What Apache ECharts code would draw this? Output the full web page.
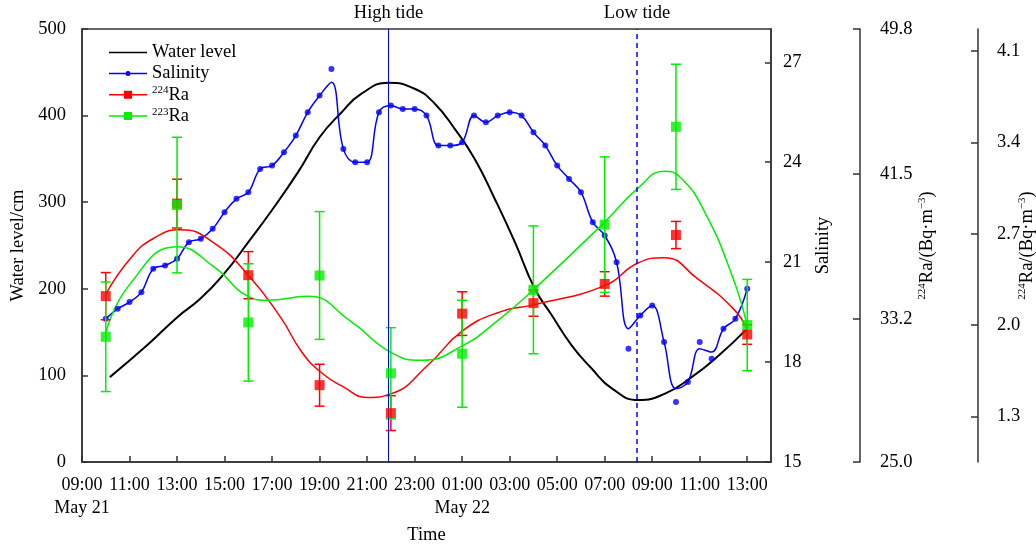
<!DOCTYPE html>
<html>
<head>
<meta charset="utf-8">
<title>Water level, salinity and radium</title>
<style>
  body { margin: 0; background: #fff; }
  #chart { width: 1036px; height: 554px; }
</style>
</head>
<body>
<div id="chart"></div>
<script src="https://cdn.jsdelivr.net/npm/echarts@6.0.0/dist/echarts.min.js"></script>
<script>
// x values are hours after 09:00 on May 21
const xTickValues = [0, 2, 4, 6, 8, 10, 12, 14, 16, 18, 20, 22, 24, 26, 28];
const xTickLabels = ['09:00', '11:00', '13:00', '15:00', '17:00', '19:00', '21:00', '23:00',
                     '01:00', '03:00', '05:00', '07:00', '09:00', '11:00', '13:00'];
const dateTickValues = [0, 16];
const dateTickLabels = ['May 21', 'May 22'];

const salinityTicks = [15, 18, 21, 24, 27];
const ra224Ticks = [25.0, 33.2, 41.5, 49.8];
const ra223Ticks = [1.3, 2.0, 2.7, 3.4, 4.1];

const highTide = 12.9;
const lowTide = 23.36;

// water level curve (cm)
const levelTimes = [1.17, 2.75, 4, 5, 6, 7, 8, 9.1, 10, 10.9, 11.75, 12.9, 14, 14.84, 15.68, 16.53,
                    17.37, 18.22, 19.06, 19.76, 20.6, 21.45, 22.3, 23.42, 24.54, 25.66, 26.8, 28];
const levelValues = [98, 135, 167, 189, 218, 254, 291, 335, 375, 403, 425, 438, 431, 414, 385, 350,
                     304, 254, 200, 170, 135, 108, 85, 71.5, 79, 98, 123, 154];

// salinity, every half hour from 10:00
const salinityTimes = [1, 1.5, 2, 2.5, 3, 3.5, 4, 4.5, 5, 5.5, 6, 6.5, 7, 7.5, 8, 8.5, 9, 9.5, 10, 10.5,
                       11, 11.5, 12, 12.5, 13, 13.5, 14, 14.5, 15, 15.5, 16, 16.5, 17, 17.5, 18, 18.5, 19, 19.5, 20, 20.5,
                       21, 21.5, 22, 22.5, 23, 23.5, 24, 24.5, 25, 25.5, 26, 26.5, 27, 27.5, 28];
const salinity = [19.3, 19.6, 19.8, 20.1, 20.8, 20.9, 21.1, 21.6, 21.7, 22.0,
                  22.5, 22.9, 23.1, 23.8, 23.9, 24.3, 24.8, 25.5, 26.0, 26.8,
                  24.4, 24.0, 24.0, 25.5, 25.7, 25.6, 25.6, 25.4, 24.5, 24.5,
                  24.6, 25.4, 25.2, 25.4, 25.5, 25.4, 24.9, 24.5, 23.9, 23.5,
                  23.1, 22.2, 21.8, 21.0, 18.4, 19.4, 19.7, 18.6, 16.8, 17.4,
                  18.6, 18.1, 19.0, 19.3, 20.2];
// smoothed salinity curve (misses a few points)
const salinityCurve = [19.3, 19.6, 19.8, 20.1, 20.8, 20.9, 21.1, 21.6, 21.7, 22.0,
                       22.5, 22.9, 23.1, 23.8, 23.9, 24.3, 24.8, 25.5, 26.0, 26.4,
                       24.4, 24.0, 24.0, 25.5, 25.7, 25.6, 25.6, 25.4, 24.5, 24.5,
                       24.6, 25.4, 25.2, 25.4, 25.5, 25.4, 24.9, 24.5, 23.9, 23.5,
                       23.1, 22.2, 21.8, 21.0, 19.0, 19.4, 19.7, 18.6, 17.2, 17.4,
                       18.4, 18.3, 19.0, 19.3, 20.2];

// radium samples every 3 hours from 10:00
const raTimes = [1, 4, 7, 10, 13, 16, 19, 22, 25, 28];
const ra224 = [34.5, 39.8, 35.7, 29.4, 27.8, 33.5, 34.1, 35.2, 38.0, 32.3];
const ra224Err = [1.35, 1.4, 1.35, 1.2, 1.0, 1.25, 0.75, 0.7, 0.78, 0.56];
const ra223 = [1.91, 2.92, 2.02, 2.38, 1.63, 1.78, 2.27, 2.77, 3.52, 2.00];
const ra223Err = [0.42, 0.52, 0.45, 0.49, 0.35, 0.41, 0.49, 0.52, 0.48, 0.35];

// fitted curves
const ra224FitTimes = [1, 2, 3, 4.15, 5.5, 7, 8.4, 9.2, 10, 11, 12, 13, 14.6, 16, 17.6, 19, 22, 23.4, 24.5, 25.9, 27.4, 28];
const ra224Fit = [34.6, 36.6, 37.8, 38.3, 37.6, 35.7, 33.2, 31.4, 30.2, 29.3, 28.7, 28.9, 30.6, 32.5, 33.6, 34.0, 35.1, 36.4, 36.7, 35.5, 33.8, 32.6];
const ra223FitTimes = [1, 2, 4, 5.6, 7, 7.8, 9.5, 11.3, 13, 14.3, 16, 17.6, 19, 22, 23.4, 24.5, 25.2, 26.2, 27.4, 28];
const ra223Fit = [1.94, 2.31, 2.60, 2.44, 2.22, 2.19, 2.22, 2.03, 1.79, 1.73, 1.84, 2.05, 2.27, 2.79, 3.05, 3.18, 3.13, 2.87, 2.36, 1.99];

const FONT = 'Liberation Serif';
const FS = 18.5;
const INK = '#000';
const AXIS = '#333';
const BLUE = '#0000ff';
const RED = '#ff0000';
const GREEN = '#00ee00';

function pairs(xs, ys) {
    return xs.map((x, i) => [x, ys[i]]);
}

function labelFrom(values, labels) {
    return function (v) {
        const i = values.indexOf(v);
        return i >= 0 ? labels[i] : '';
    };
}

function errorBars(name, color, yAxisIndex, ys, errs) {
    return {
        name: name,
        type: 'custom',
        yAxisIndex: yAxisIndex,
        z: 4,
        silent: true,
        data: raTimes.map((x, i) => [x, ys[i] - errs[i], ys[i] + errs[i]]),
        encode: { x: 0, y: [1, 2] },
        renderItem: function (params, api) {
            const x = api.value(0);
            const lo = api.coord([x, api.value(1)]);
            const hi = api.coord([x, api.value(2)]);
            const w = 5;
            const st = () => ({ stroke: color, lineWidth: 1.5 });
            return {
                type: 'group',
                children: [
                    { type: 'line', shape: { x1: lo[0], y1: lo[1], x2: hi[0], y2: hi[1] }, style: st() },
                    { type: 'line', shape: { x1: lo[0] - w, y1: lo[1], x2: lo[0] + w, y2: lo[1] }, style: st() },
                    { type: 'line', shape: { x1: hi[0] - w, y1: hi[1], x2: hi[0] + w, y2: hi[1] }, style: st() }
                ]
            };
        }
    };
}

const supRich = {
    sup: { fontFamily: FONT, fontSize: 11, color: INK, verticalAlign: 'top', lineHeight: 11 },
    n: { fontFamily: FONT, fontSize: FS, color: INK, lineHeight: 19.5 }
};

function rightAxis(opts) {
    return Object.assign({
        type: 'value',
        position: 'right',
        nameLocation: 'middle',
        nameRotate: 90,
        nameMoveOverlap: false,
        nameTextStyle: { fontFamily: FONT, fontSize: FS, color: INK, rich: supRich },
        axisLine: { show: true, onZero: false, lineStyle: { color: AXIS, width: 1.5 } },
        splitLine: { show: false }
    }, opts);
}

const chart = echarts.init(document.getElementById('chart'));

chart.setOption({
    animation: false,
    backgroundColor: '#fff',
    textStyle: { fontFamily: FONT },
    grid: {
        left: 82, right: 265, top: 29, bottom: 92,
        show: true, borderColor: AXIS, borderWidth: 1.5,
        outerBoundsMode: 'none'
    },
    legend: {
        orient: 'vertical',
        left: 104,
        top: 38,
        itemWidth: 38,
        itemHeight: 12,
        itemGap: 2,
        selectedMode: false,
        textStyle: { fontFamily: FONT, fontSize: FS, color: INK, rich: supRich },
        formatter: function (name) {
            if (name === '224Ra') return '{sup|224}{n|Ra}';
            if (name === '223Ra') return '{sup|223}{n|Ra}';
            return '{n|' + name + '}';
        },
        data: [
            { name: 'Water level', icon: 'path://M0,0L38,0L38,1.6L0,1.6Z' },
            { name: 'Salinity', icon: 'path://M0,3.25L16.5,3.25L16.5,4.75L0,4.75Z M21.5,3.25L38,3.25L38,4.75L21.5,4.75Z M16.5,4A2.5,2.5 0 1,1 21.5,4A2.5,2.5 0 1,1 16.5,4Z' },
            { name: '224Ra', icon: 'path://M0,3.25L15,3.25L15,4.75L0,4.75Z M23,3.25L38,3.25L38,4.75L23,4.75Z M15,0L23,0L23,8L15,8Z' },
            { name: '223Ra', icon: 'path://M0,3.25L15,3.25L15,4.75L0,4.75Z M23,3.25L38,3.25L38,4.75L23,4.75Z M15,0L23,0L23,8L15,8Z' }
        ]
    },
    xAxis: [
        {
            type: 'value',
            min: 0,
            max: 29,
            name: 'Time',
            nameLocation: 'middle',
            nameGap: 64,
            nameMoveOverlap: false,
            nameTextStyle: { fontFamily: FONT, fontSize: FS, color: INK },
            axisLine: { show: true, onZero: false, lineStyle: { color: AXIS, width: 1.5 } },
            axisTick: { show: true, inside: true, length: 6, customValues: xTickValues, lineStyle: { color: AXIS, width: 1.5 } },
            axisLabel: {
                customValues: xTickValues,
                hideOverlap: false,
                showMinLabel: true,
                showMaxLabel: true,
                margin: 14,
                fontFamily: FONT, fontSize: 18, color: INK,
                formatter: labelFrom(xTickValues, xTickLabels)
            },
            splitLine: { show: false }
        },
        {
            // second row of the time axis: the dates
            type: 'value',
            position: 'bottom',
            min: 0,
            max: 29,
            axisLine: { show: false, onZero: false },
            axisTick: { show: false },
            axisLabel: {
                customValues: dateTickValues,
                showMinLabel: true,
                margin: 37,
                fontFamily: FONT, fontSize: 18, color: INK,
                formatter: labelFrom(dateTickValues, dateTickLabels)
            },
            splitLine: { show: false }
        }
    ],
    yAxis: [
        {
            type: 'value',
            position: 'left',
            min: 0,
            max: 500,
            interval: 100,
            name: 'Water level/cm',
            nameLocation: 'middle',
            nameGap: 54,
            nameMoveOverlap: false,
            nameTextStyle: { fontFamily: FONT, fontSize: FS, color: INK },
            axisLine: { show: true, onZero: false, lineStyle: { color: AXIS, width: 1.5 } },
            axisTick: { show: true, inside: true, length: 6, lineStyle: { color: AXIS, width: 1.5 } },
            axisLabel: { margin: 16, fontFamily: FONT, fontSize: FS, color: INK },
            splitLine: { show: false }
        },
        rightAxis({
            min: 15,
            max: 28,
            name: 'Salinity',
            nameGap: 43,
            axisTick: { show: true, inside: true, length: 6, customValues: salinityTicks, lineStyle: { color: AXIS, width: 1.5 } },
            axisLabel: { customValues: salinityTicks, margin: 12, fontFamily: FONT, fontSize: FS, color: INK }
        }),
        rightAxis({
            min: 25,
            max: 49.8,
            offset: 89,
            name: '{sup|224}{n|Ra/(Bq·m}{sup|−3}{n|)}',
            nameGap: 57,
            axisTick: { show: true, inside: true, length: 7, customValues: ra224Ticks, lineStyle: { color: AXIS, width: 1.5 } },
            axisLabel: {
                customValues: ra224Ticks, margin: 20, fontFamily: FONT, fontSize: FS, color: INK,
                formatter: v => v.toFixed(1)
            }
        }),
        rightAxis({
            min: 0.95,
            max: 4.27,
            offset: 207,
            name: '{sup|224}{n|Ra/(Bq·m}{sup|−3}{n|)}',
            nameGap: 39,
            axisTick: { show: true, inside: true, length: 7, customValues: ra223Ticks, lineStyle: { color: AXIS, width: 1.5 } },
            axisLabel: {
                customValues: ra223Ticks, margin: 19, fontFamily: FONT, fontSize: FS, color: INK,
                formatter: v => v.toFixed(1)
            }
        })
    ],
    series: [
        {
            name: 'Water level',
            type: 'line',
            yAxisIndex: 0,
            data: pairs(levelTimes, levelValues),
            smooth: true,
            symbol: 'none',
            color: INK,
            lineStyle: { color: INK, width: 2 },
            z: 2
        },
        {
            name: 'Salinity',
            type: 'line',
            yAxisIndex: 1,
            data: pairs(salinityTimes, salinityCurve),
            smooth: 0.4,
            symbol: 'none',
            color: BLUE,
            lineStyle: { color: BLUE, width: 1.5 },
            z: 2,
            markLine: {
                silent: true,
                symbol: 'none',
                label: { position: 'end', distance: 6, fontFamily: FONT, fontSize: FS, color: INK },
                data: [
                    { xAxis: highTide, label: { formatter: 'High tide' }, lineStyle: { color: BLUE, width: 1, type: 'solid' } },
                    { xAxis: lowTide, label: { formatter: 'Low tide' }, lineStyle: { color: BLUE, width: 1.5, type: [5, 4] } }
                ]
            }
        },
        {
            name: 'Salinity',
            type: 'scatter',
            yAxisIndex: 1,
            data: pairs(salinityTimes, salinity),
            symbol: 'circle',
            symbolSize: 6,
            color: BLUE,
            z: 3
        },
        {
            name: '224Ra',
            type: 'line',
            yAxisIndex: 2,
            data: pairs(ra224FitTimes, ra224Fit),
            smooth: true,
            symbol: 'none',
            color: RED,
            lineStyle: { color: RED, width: 1.5 },
            z: 2
        },
        errorBars('224Ra', RED, 2, ra224, ra224Err),
        {
            name: '224Ra',
            type: 'scatter',
            yAxisIndex: 2,
            data: pairs(raTimes, ra224),
            symbol: 'rect',
            symbolSize: 10,
            color: RED,
            z: 5
        },
        {
            name: '223Ra',
            type: 'line',
            yAxisIndex: 3,
            data: pairs(ra223FitTimes, ra223Fit),
            smooth: true,
            symbol: 'none',
            color: GREEN,
            lineStyle: { color: GREEN, width: 1.5 },
            z: 2
        },
        errorBars('223Ra', GREEN, 3, ra223, ra223Err),
        {
            name: '223Ra',
            type: 'scatter',
            yAxisIndex: 3,
            data: pairs(raTimes, ra223),
            symbol: 'rect',
            symbolSize: 10,
            color: GREEN,
            z: 6
        }
    ]
});
</script>
</body>
</html>
